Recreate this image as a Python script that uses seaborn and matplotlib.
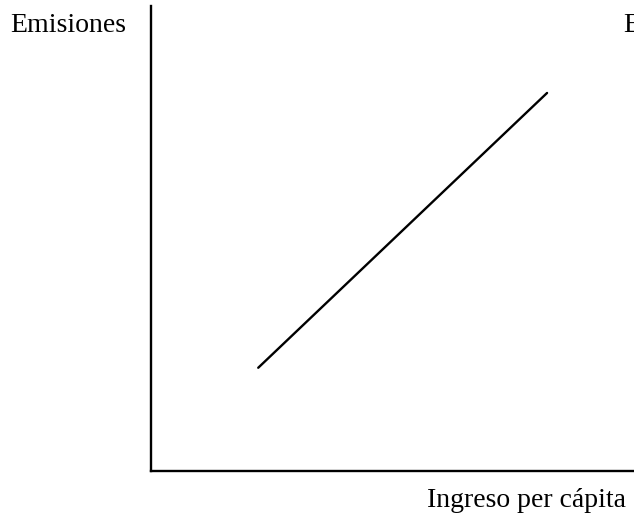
import matplotlib
matplotlib.use("Agg")
import matplotlib.pyplot as plt
import pandas as pd
import seaborn as sns

# data (arbitrary 0-100 units)
ingreso = [22.2, 82.0]
emisiones = [22.2, 81.3]

y_label = "Emisiones"
x_label = "Ingreso per cápita"
cut_label = "E"

sns.set_theme(style="white")
plt.rcParams["font.family"] = ["Liberation Serif", "DejaVu Serif"]
plt.rcParams["text.color"] = "black"

df = pd.DataFrame({"ingreso": ingreso, "emisiones": emisiones})

fig = plt.figure(figsize=(6.34, 5.16), dpi=100)
ax = fig.add_axes([151 / 634, 45 / 516, 1 - 151 / 634 + 0.05, 465 / 516])

sns.lineplot(data=df, x="ingreso", y="emisiones", color="black", linewidth=1.7, ax=ax)
ax.set_xlim(0, 100 * (1 - 151 / 634 + 0.05) / (1 - 151 / 634))
ax.set_ylim(0, 100)
ax.set_xticks([])
ax.set_yticks([])
ax.set_xlabel("")
ax.set_ylabel("")
for side in ["top", "right"]:
    ax.spines[side].set_visible(False)
for side in ["left", "bottom"]:
    ax.spines[side].set_color("black")
    ax.spines[side].set_linewidth(1.7)

fig.text(10 / 634, 1 - 32 / 516, y_label, fontsize=20, va="baseline", ha="left", color="black")
fig.text(623 / 634, 1 - 32 / 516, cut_label, fontsize=20, va="baseline", ha="left", color="black")
fig.text(427 / 634, 1 - 507 / 516, x_label, fontsize=20, va="baseline", ha="left", color="black")

fig.savefig("out.png", dpi=100, facecolor="white")
